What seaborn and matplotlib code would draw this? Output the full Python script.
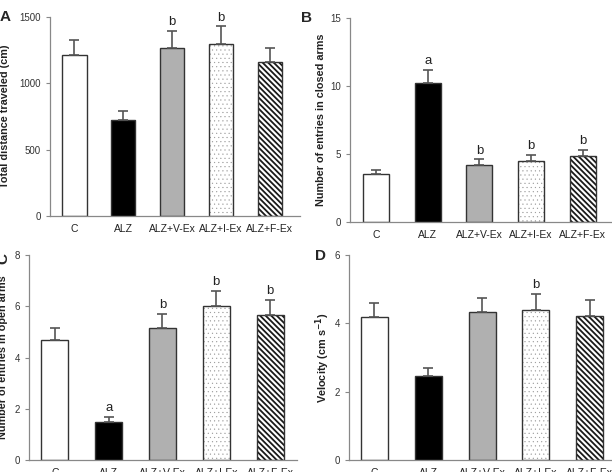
import numpy as np
import pandas as pd
import seaborn as sns
import matplotlib.pyplot as plt

groups = ["C", "ALZ", "ALZ+V-Ex", "ALZ+I-Ex", "ALZ+F-Ex"]

dist_mean = [1210, 720, 1270, 1300, 1160]
dist_sem = [120, 75, 125, 130, 110]
dist_sig = ["", "", "b", "b", ""]

closed_mean = [3.5, 10.2, 4.2, 4.5, 4.85]
closed_sem = [0.35, 1.0, 0.4, 0.45, 0.45]
closed_sig = ["", "a", "b", "b", "b"]

open_mean = [4.7, 1.5, 5.15, 6.0, 5.65]
open_sem = [0.45, 0.17, 0.55, 0.6, 0.6]
open_sig = ["", "a", "b", "b", "b"]

vel_mean = [4.2, 2.45, 4.32, 4.4, 4.22]
vel_sem = [0.4, 0.25, 0.43, 0.45, 0.45]
vel_sig = ["", "", "", "b", ""]

colors = ["white", "black", "#b0b0b0", "white", "white"]
hatches = [None, None, None, "....", "\\\\\\\\\\\\"]
hatch_lw = [1, 1, 1, 0.3, 1.3]
hatch_col = [None, None, None, (0.6, 0.6, 0.6, 1), (0.1, 0.1, 0.1, 1)]

sns.set_style("ticks")
plt.rcParams["font.family"] = ["Liberation Sans", "DejaVu Sans"]

W, H = 612, 472
fig = plt.figure(figsize=(W / 100, H / 100), dpi=100)


def px_axes(left, right, top, bottom):
    return fig.add_axes([left / W, 1 - bottom / H, (right - left) / W, (bottom - top) / H])


def panel(ax, means, sems, sig, ymax, step, ylabel, xlim, sig_off):
    df = pd.DataFrame({"group": groups, "value": means})
    sns.barplot(data=df, x="group", y="value", hue="group", palette=colors,
                order=groups, hue_order=groups, legend=False, width=0.5,
                edgecolor="#333333", linewidth=1.0, ax=ax)
    for p, h, lw, hc in zip(ax.patches, hatches, hatch_lw, hatch_col):
        if h:
            p.set_hatch(h)
            p._hatch_color = hc
            if hasattr(p, "set_hatch_linewidth"):
                p.set_hatch_linewidth(lw)
    x = np.arange(len(groups))
    ax.errorbar(x, means, yerr=[np.zeros(len(x)), sems], fmt="none",
                ecolor="#555555", elinewidth=1.2, capsize=3.5, capthick=1.2)
    for xi, m, s, t in zip(x, means, sems, sig):
        if t:
            ax.text(xi, m + s + sig_off, t, ha="center", va="bottom", fontsize=9.5, color="#222222")
    ax.set_ylim(0, ymax)
    ax.set_yticks(np.arange(0, ymax + step / 2, step))
    ax.set_xlim(*xlim)
    ax.set_xlabel("")
    ax.set_ylabel(ylabel, fontsize=7.8, fontweight="bold", color="#222222")
    ax.tick_params(axis="y", labelsize=7, colors="#333333", length=3, width=0.8, color="#888888")
    ax.tick_params(axis="x", labelsize=7.5, colors="#222222", length=0, pad=6)
    for sp in ["top", "right"]:
        ax.spines[sp].set_visible(False)
    for sp in ["left", "bottom"]:
        ax.spines[sp].set_color("#888888")
        ax.spines[sp].set_linewidth(0.9)


axA = px_axes(50, 300, 17, 216)
panel(axA, dist_mean, dist_sem, dist_sig, 1500, 500, "Total distance traveled (cm)",
      (-0.5, 4.62), 20)
axA.yaxis.set_label_coords(-0.158, 0.5)

axB = px_axes(350, 614, 18, 222)
panel(axB, closed_mean, closed_sem, closed_sig, 15, 5, "Number of entries in closed arms",
      (-0.5, 4.6), 0.2)
axB.yaxis.set_label_coords(-0.09, 0.5)

axC = px_axes(29, 297, 255, 460)
panel(axC, open_mean, open_sem, open_sig, 8, 2, "Number of entries in open arms",
      (-0.48, 4.5), 0.12)
axC.yaxis.set_label_coords(-0.078, 0.5)

axD = px_axes(349, 614, 255, 460)
panel(axD, vel_mean, vel_sem, vel_sig, 6, 2, "Velocity (cm s$^{\\mathbf{-1}}$)",
      (-0.47, 4.45), 0.1)
axD.yaxis.set_label_coords(-0.066, 0.5)

fig.text(5 / W, 1 - 17 / H, "A", fontsize=11, fontweight="bold", va="center", ha="center")
fig.text(306 / W, 1 - 18 / H, "B", fontsize=11, fontweight="bold", va="center", ha="center")
fig.text(3 / W, 1 - 258 / H, "C", fontsize=11, fontweight="bold", va="center", ha="center", rotation=90)
fig.text(321 / W, 1 - 256 / H, "D", fontsize=11, fontweight="bold", va="center", ha="center")

fig.savefig("out.png", dpi=100)
